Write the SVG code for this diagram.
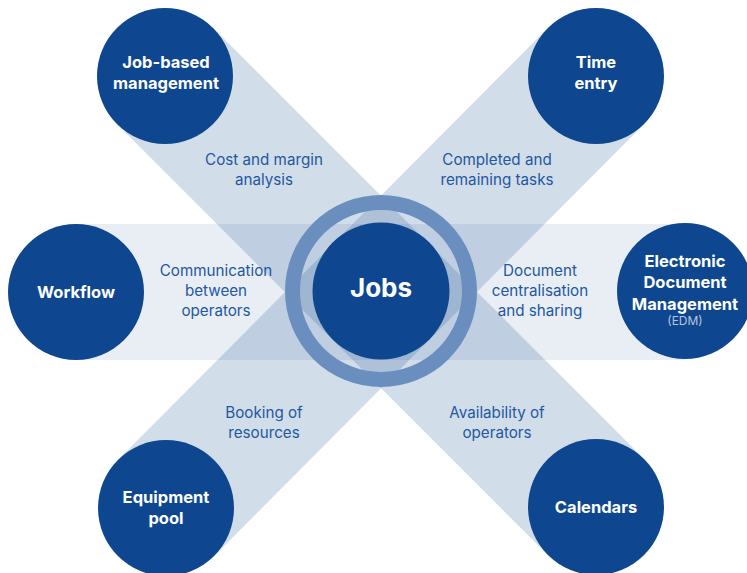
<svg xmlns="http://www.w3.org/2000/svg" width="747" height="573" viewBox="0 0 747 573">
<style>
.band{stroke:#1f5596;fill:none;stroke-linecap:butt}
.diag{stroke-opacity:0.2;stroke-width:136}
.hband{fill:#1f5596;fill-opacity:0.1}
.node{fill:#0e4790}
.nl{font-family:Inter,"Liberation Sans",sans-serif;font-weight:700;font-size:16.5px;fill:#ffffff;text-anchor:middle}
.bl{font-family:Inter,"Liberation Sans",sans-serif;font-size:15.2px;fill:#2358a0;text-anchor:middle}
.sub{font-family:Inter,"Liberation Sans",sans-serif;font-size:12px;fill:#b4c6de;text-anchor:middle}
</style>
<rect width="747" height="573" fill="#ffffff"/>
<g id="connectors">
<rect class="hband" x="76" y="224" width="609" height="136"/>
<line class="band diag" x1="165" y1="76" x2="596" y2="507"/>
<line class="band diag" x1="596" y1="76" x2="166" y2="508"/>
</g>
<g id="labels">
<text class="bl" x="264" y="165">Cost and margin</text>
<text class="bl" x="264" y="185">analysis</text>
<text class="bl" x="497" y="165">Completed and</text>
<text class="bl" x="497" y="185">remaining tasks</text>
<text class="bl" x="216" y="276">Communication</text>
<text class="bl" x="216" y="296">between</text>
<text class="bl" x="216" y="316">operators</text>
<text class="bl" x="540" y="276">Document</text>
<text class="bl" x="540" y="296">centralisation</text>
<text class="bl" x="540" y="316">and sharing</text>
<text class="bl" x="264" y="418">Booking of</text>
<text class="bl" x="264" y="438">resources</text>
<text class="bl" x="497" y="418">Availability of</text>
<text class="bl" x="497" y="438">operators</text>
</g>
<g id="jobs">
<circle cx="381" cy="291" r="88.5" fill="none" stroke="#6a8fbf" stroke-width="15"/>
<circle class="node" cx="381" cy="291" r="68.5"/>
<text x="381" y="297" font-family="Inter,'Liberation Sans',sans-serif" font-weight="700" font-size="26" fill="#ffffff" text-anchor="middle">Jobs</text>
</g>
<g id="job-based">
<circle class="node" cx="165" cy="76" r="68"/>
<text class="nl" x="166" y="68">Job-based</text>
<text class="nl" x="166" y="89">management</text>
</g>
<g id="time-entry">
<circle class="node" cx="596" cy="76" r="68"/>
<text class="nl" x="596" y="68">Time</text>
<text class="nl" x="596" y="89">entry</text>
</g>
<g id="workflow">
<circle class="node" cx="76" cy="292" r="68"/>
<text class="nl" x="76" y="298">Workflow</text>
</g>
<g id="edm">
<circle class="node" cx="685" cy="291" r="68"/>
<text class="nl" x="685" y="267">Electronic</text>
<text class="nl" x="685" y="288">Document</text>
<text class="nl" x="685" y="310">Management</text>
<text class="sub" x="685" y="325">(EDM)</text>
</g>
<g id="equipment-pool">
<circle class="node" cx="166" cy="508" r="68"/>
<text class="nl" x="166" y="503">Equipment</text>
<text class="nl" x="166" y="524">pool</text>
</g>
<g id="calendars">
<circle class="node" cx="596" cy="507" r="68"/>
<text class="nl" x="596" y="513">Calendars</text>
</g>
</svg>
